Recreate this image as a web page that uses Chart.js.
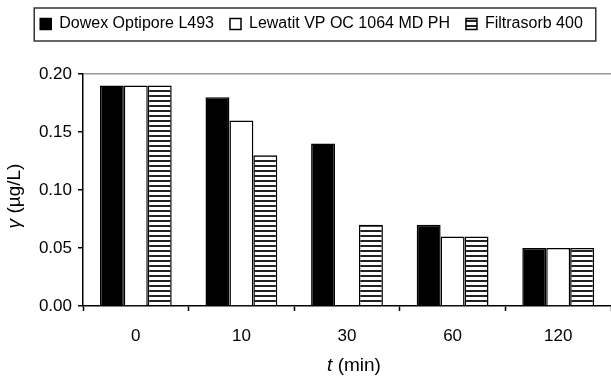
<!DOCTYPE html>
<html>
<head>
<meta charset="utf-8">
<script src="https://cdn.jsdelivr.net/npm/chart.js@4"></script>
<style>
  html, body { margin: 0; padding: 0; background: #fff; }
  #wrap { width: 611px; height: 376px; }
</style>
</head>
<body>
<div id="wrap"><canvas id="chart" width="611" height="376"></canvas></div>
<script>
const categories = ['0', '10', '30', '60', '120'];
const seriesNames = ['Dowex Optipore L493', 'Lewatit VP OC 1064 MD PH', 'Filtrasorb 400'];
const dowex = [0.19, 0.18, 0.14, 0.07, 0.05];
const lewatit = [0.19, 0.16, null, 0.06, 0.05]; // no bar at 30 min
const filtrasorb = [0.19, 0.13, 0.07, 0.06, 0.05];
const yMin = 0, yMax = 0.2, yStep = 0.05;

const font = '"Liberation Sans", Arial, sans-serif';
Chart.defaults.font.family = font;
Chart.defaults.color = '#000';

// horizontal stripes for Filtrasorb
function stripes() {
  const c = document.createElement('canvas');
  c.width = 5; c.height = 5;
  const g = c.getContext('2d');
  g.fillStyle = '#fff';
  g.fillRect(0, 0, 5, 5);
  g.fillStyle = '#222';
  g.fillRect(0, 0, 5, 2);
  return g.createPattern(c, 'repeat');
}

// extra room under the legend
const legendSpace = {
  id: 'legendSpace',
  afterInit(chart) {
    const fit = chart.legend.fit;
    chart.legend.fit = function () {
      fit.call(this);
      this.height += 32;
    };
  }
};

// frame round the legend + axis titles with italic symbols
const decorations = {
  id: 'decorations',
  afterDraw(chart) {
    const ctx = chart.ctx;
    const boxes = chart.legend.legendHitBoxes;
    if (boxes && boxes.length) {
      const first = boxes[0], last = boxes[boxes.length - 1];
      ctx.save();
      ctx.strokeStyle = '#333';
      ctx.lineWidth = 1.5;
      ctx.strokeRect(first.left - 6, first.top - 8,
        last.left + last.width + 13 - (first.left - 6), first.height + 17);
      ctx.restore();
    }

    const drawParts = (parts, cx, cy) => {
      let total = 0;
      parts.forEach(p => {
        ctx.font = p[1] + ' 19px ' + font;
        total += ctx.measureText(p[0]).width;
      });
      let x = cx - total / 2;
      parts.forEach(p => {
        ctx.font = p[1] + ' 19px ' + font;
        ctx.fillText(p[0], x, cy);
        x += ctx.measureText(p[0]).width;
      });
    };

    const area = chart.chartArea;
    ctx.save();
    ctx.fillStyle = '#000';
    ctx.textAlign = 'left';
    ctx.textBaseline = 'middle';
    drawParts([['t', 'italic'], [' (min)', 'normal']], 354, 366);
    ctx.translate(15, (area.top + area.bottom) / 2 + 6);
    ctx.rotate(-Math.PI / 2);
    drawParts([['\u03b3', 'italic'], [' (\u00b5g/L)', 'normal']], 0, 0);
    ctx.restore();
  }
};

new Chart(document.getElementById('chart'), {
  type: 'bar',
  data: {
    labels: categories,
    datasets: [
      {
        label: seriesNames[0],
        data: dowex,
        backgroundColor: '#000',
        borderColor: '#000',
        borderWidth: 1.5
      },
      {
        label: seriesNames[1],
        data: lewatit,
        backgroundColor: '#fff',
        borderColor: '#000',
        borderWidth: 1.5
      },
      {
        label: seriesNames[2],
        data: filtrasorb,
        backgroundColor: stripes(),
        borderColor: '#000',
        borderWidth: 1.5
      }
    ]
  },
  options: {
    responsive: false,
    animation: false,
    layout: { padding: { left: 12, right: 0, top: 0, bottom: 0 } },
    datasets: {
      bar: { categoryPercentage: 0.68, barPercentage: 1 }
    },
    plugins: {
      legend: {
        position: 'top',
        labels: {
          boxWidth: 11,
          boxHeight: 11,
          padding: 16,
          color: '#000',
          font: { size: 16 }
        }
      },
      tooltip: { enabled: false }
    },
    scales: {
      x: {
        offset: true,
        afterFit: s => { s.height = 70; },
        grid: {
          offset: true,
          drawOnChartArea: false,
          tickLength: 5,
          tickColor: '#000',
          tickWidth: 1.5
        },
        border: { color: '#000', width: 1.5 },
        ticks: { color: '#000', font: { size: 17 }, padding: 15 }
      },
      y: {
        min: yMin,
        max: yMax,
        afterFit: s => { s.width = 71; },
        grid: {
          color: ctx => Math.abs(ctx.tick.value - yMax) < 1e-9 ? '#999' : 'transparent',
          lineWidth: 1.5,
          tickLength: 5,
          tickColor: '#000',
          tickWidth: 1.5
        },
        border: { color: '#000', width: 1.5 },
        ticks: {
          stepSize: yStep,
          color: '#000',
          font: { size: 17 },
          padding: 6,
          callback: v => v.toFixed(2)
        }
      }
    }
  },
  plugins: [legendSpace, decorations]
});
</script>
</body>
</html>
